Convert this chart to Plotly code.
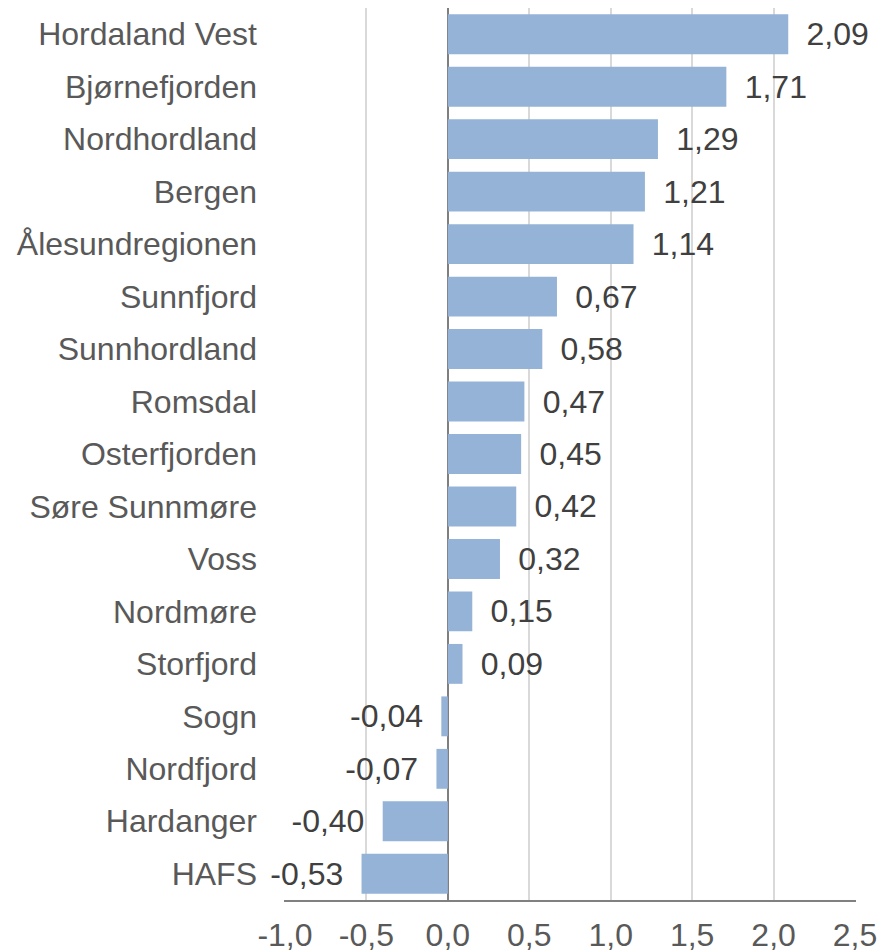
#!/usr/bin/env python3
"""Horizontal bar chart of regional values (Vestlandet regions)."""

import plotly.graph_objects as go

REGIONS = [
    "Hordaland Vest", "Bjørnefjorden", "Nordhordland", "Bergen", "Ålesundregionen",
    "Sunnfjord", "Sunnhordland", "Romsdal", "Osterfjorden", "Søre Sunnmøre",
    "Voss", "Nordmøre", "Storfjord", "Sogn", "Nordfjord", "Hardanger", "HAFS",
]
VALUES = [2.09, 1.71, 1.29, 1.21, 1.14, 0.67, 0.58, 0.47, 0.45, 0.42,
          0.32, 0.15, 0.09, -0.04, -0.07, -0.40, -0.53]
TICK_VALS = [-1.0, -0.5, 0.0, 0.5, 1.0, 1.5, 2.0, 2.5]
TICK_TEXT = ["-1,0", "-0,5", "0,0", "0,5", "1,0", "1,5", "2,0", "2,5"]

FONT = "Liberation Sans, Arial, sans-serif"
SIZE = 32
PAD = "\u00a0\u2009"

# comma decimals, padded away from the bar end
labels = []
for v in VALUES:
    s = f"{v:.2f}".replace(".", ",")
    labels.append(PAD + s if v >= 0 else s + PAD)

fig = go.Figure(go.Bar(
    x=VALUES,
    y=REGIONS,
    orientation="h",
    marker=dict(color="#95B3D7", line=dict(width=0)),
    text=labels,
    textposition="outside",
    textfont=dict(family=FONT, size=SIZE, color="#404040"),
    cliponaxis=False,
    width=0.76,
))

fig.update_layout(
    width=881,
    height=952,
    margin=dict(l=284, r=25, t=8, b=52),
    plot_bgcolor="white",
    paper_bgcolor="white",
    showlegend=False,
    font=dict(family=FONT, size=SIZE, color="#595959"),
    uniformtext=dict(minsize=SIZE, mode="show"),
)

fig.update_xaxes(
    range=[-1.006, 2.506],
    tickvals=TICK_VALS,
    ticktext=TICK_TEXT,
    showgrid=True,
    gridcolor="#D9D9D9",
    gridwidth=1.5,
    zeroline=True,
    zerolinecolor="#7F7F7F",
    zerolinewidth=1.5,
    showline=True,
    linecolor="#808080",
    linewidth=2,
    ticks="",
    ticklabelstandoff=6,
    automargin=False,
    tickfont=dict(family=FONT, size=SIZE, color="#595959"),
)
fig.update_yaxes(
    autorange="reversed",
    showgrid=False,
    ticks="",
    ticklabelstandoff=26,
    automargin=False,
    tickfont=dict(family=FONT, size=SIZE, color="#595959"),
)

# drop the default page margin so the figure fills the window exactly
fig.write_html(
    "out.html",
    config={"displayModeBar": False},
    post_script="document.body.style.margin='0';document.body.style.overflow='hidden';",
)
